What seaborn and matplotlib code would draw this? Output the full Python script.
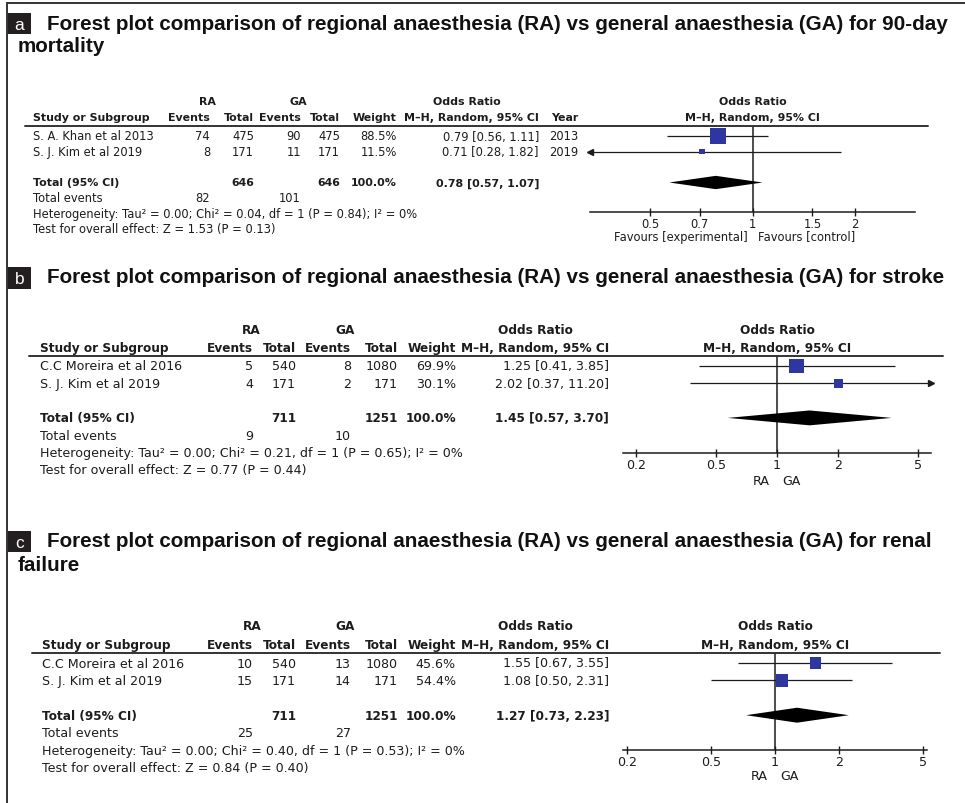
import numpy as np
import pandas as pd
import matplotlib
matplotlib.use("Agg")
import matplotlib.pyplot as plt
from matplotlib.patches import Rectangle
from matplotlib.lines import Line2D
from matplotlib.ticker import NullLocator
from matplotlib.transforms import blended_transform_factory
import seaborn as sns

# ---------------------------------------------------------------- data
# (a) 90-day mortality
a_studies = ["S. A. Khan et al 2013", "S. J. Kim et al 2019"]
a_ra_events = [74, 8]
a_ra_total = [475, 171]
a_ga_events = [90, 11]
a_ga_total = [475, 171]
a_weight = [88.5, 11.5]
a_or = [0.79, 0.71]
a_ci_low = [0.56, 0.28]
a_ci_high = [1.11, 1.82]
a_year = [2013, 2019]
a_pooled = [0.78, 0.57, 1.07]
a_group_totals = [646, 646]
a_total_events = [82, 101]
a_heterogeneity = "Heterogeneity: Tau\u00b2 = 0.00; Chi\u00b2 = 0.04, df = 1 (P = 0.84); I\u00b2 = 0%"
a_overall = "Test for overall effect: Z = 1.53 (P = 0.13)"
a_ticks = [0.5, 0.7, 1, 1.5, 2]
a_tick_labels = ["0.5", "0.7", "1", "1.5", "2"]

# (b) stroke
b_studies = ["C.C Moreira et al 2016", "S. J. Kim et al 2019"]
b_ra_events = [5, 4]
b_ra_total = [540, 171]
b_ga_events = [8, 2]
b_ga_total = [1080, 171]
b_weight = [69.9, 30.1]
b_or = [1.25, 2.02]
b_ci_low = [0.41, 0.37]
b_ci_high = [3.85, 11.20]
b_pooled = [1.45, 0.57, 3.70]
b_group_totals = [711, 1251]
b_total_events = [9, 10]
b_heterogeneity = "Heterogeneity: Tau\u00b2 = 0.00; Chi\u00b2 = 0.21, df = 1 (P = 0.65); I\u00b2 = 0%"
b_overall = "Test for overall effect: Z = 0.77 (P = 0.44)"
b_ticks = [0.2, 0.5, 1, 2, 5]
b_tick_labels = ["0.2", "0.5", "1", "2", "5"]

# (c) renal failure
c_studies = ["C.C Moreira et al 2016", "S. J. Kim et al 2019"]
c_ra_events = [10, 15]
c_ra_total = [540, 171]
c_ga_events = [13, 14]
c_ga_total = [1080, 171]
c_weight = [45.6, 54.4]
c_or = [1.55, 1.08]
c_ci_low = [0.67, 0.50]
c_ci_high = [3.55, 2.31]
c_pooled = [1.27, 0.73, 2.23]
c_group_totals = [711, 1251]
c_total_events = [25, 27]
c_heterogeneity = "Heterogeneity: Tau\u00b2 = 0.00; Chi\u00b2 = 0.40, df = 1 (P = 0.53); I\u00b2 = 0%"
c_overall = "Test for overall effect: Z = 0.84 (P = 0.40)"
c_ticks = [0.2, 0.5, 1, 2, 5]
c_tick_labels = ["0.2", "0.5", "1", "2", "5"]

titles = {
    "a": ["Forest plot comparison of regional anaesthesia (RA) vs general anaesthesia (GA) for 90-day",
          "mortality"],
    "b": ["Forest plot comparison of regional anaesthesia (RA) vs general anaesthesia (GA) for stroke"],
    "c": ["Forest plot comparison of regional anaesthesia (RA) vs general anaesthesia (GA) for renal",
          "failure"],
}

# ---------------------------------------------------------------- style
sns.set_theme(style="white")
TABLE_FONT = ["DejaVu Sans"]
TITLE_FONT = ["Liberation Sans", "DejaVu Sans"]
plt.rcParams["font.family"] = TABLE_FONT

INK = "#1c1c1c"
SQUARE_BLUE = "#2d379f"
REGULAR_SCALE = 1.05

W, H = 965, 804
fig = plt.figure(figsize=(W / 100, H / 100), dpi=100)
fig.patch.set_facecolor("white")


def fx(x):
    return x / W


def fy(y):
    return 1 - y / H


# frame along the top and left edges
fig.add_artist(Line2D([fx(7), 1], [fy(4), fy(4)], color="#333333", lw=1.4))
fig.add_artist(Line2D([fx(7), fx(7)], [fy(4), 0], color="#333333", lw=1.4))

layouts = {
    "a": dict(title_y=[24, 47], box_y=(14, 35), row0=137, drow=15.5, rule_y=127, axis_y=213,
              ax_x=(590, 915), xlim=(1 / 3, 3), rule_x=(25, 928), head_y=(102, 118), fs=7.9,
              name_x=33, cols=[210, 254, 301, 340, 397], or_right=539, or_center=467,
              ra_center=207, ga_center=298, year_right=578,
              foot=("Favours [experimental]", "Favours [control]"), foot_dy=24, foot_gap=(5, 5)),
    "b": dict(title_y=[278], box_y=(268, 290), row0=367, drow=17.3, rule_y=357, axis_y=454,
              ax_x=(623, 931), xlim=(np.exp(-1.758), np.exp(1.758)), rule_x=(29, 943),
              head_y=(331, 349), fs=8.7, name_x=40, cols=[253, 296, 351, 398, 456],
              or_right=609, or_center=535, ra_center=251, ga_center=345, year_right=None,
              foot=("RA", "GA"), foot_dy=28, foot_gap=(7, 5)),
    "c": dict(title_y=[542, 566], box_y=(532, 553), row0=664, drow=17.4, rule_y=654, axis_y=751,
              ax_x=(623, 927), xlim=(np.exp(-1.652), np.exp(1.652)), rule_x=(32, 940),
              head_y=(627, 646), fs=8.7, name_x=42, cols=[253, 296, 351, 398, 456],
              or_right=609, or_center=535, ra_center=252, ga_center=345, year_right=None,
              foot=("RA", "GA"), foot_dy=26, foot_gap=(7, 5)),
}

panels = {
    "a": dict(studies=a_studies, ra_ev=a_ra_events, ra_tot=a_ra_total, ga_ev=a_ga_events,
              ga_tot=a_ga_total, weight=a_weight, est=a_or, lo=a_ci_low, hi=a_ci_high,
              year=a_year, pooled=a_pooled, totals=a_group_totals, tot_ev=a_total_events,
              het=a_heterogeneity, overall=a_overall, ticks=a_ticks, tick_labels=a_tick_labels),
    "b": dict(studies=b_studies, ra_ev=b_ra_events, ra_tot=b_ra_total, ga_ev=b_ga_events,
              ga_tot=b_ga_total, weight=b_weight, est=b_or, lo=b_ci_low, hi=b_ci_high,
              year=None, pooled=b_pooled, totals=b_group_totals, tot_ev=b_total_events,
              het=b_heterogeneity, overall=b_overall, ticks=b_ticks, tick_labels=b_tick_labels),
    "c": dict(studies=c_studies, ra_ev=c_ra_events, ra_tot=c_ra_total, ga_ev=c_ga_events,
              ga_tot=c_ga_total, weight=c_weight, est=c_or, lo=c_ci_low, hi=c_ci_high,
              year=None, pooled=c_pooled, totals=c_group_totals, tot_ev=c_total_events,
              het=c_heterogeneity, overall=c_overall, ticks=c_ticks, tick_labels=c_tick_labels),
}


def ci_text(est, lo, hi):
    return f"{est:.2f} [{lo:.2f}, {hi:.2f}]"


def draw_panel(key):
    d = panels[key]
    L = layouts[key]
    fs = L["fs"]
    fs_reg = fs * REGULAR_SCALE

    # panel letter and title
    y0, y1 = L["box_y"]
    fig.add_artist(Rectangle((fx(8), fy(y1)), fx(31) - fx(8), (y1 - y0) / H,
                             facecolor="#231f20", edgecolor="none"))
    fig.text(fx(19.5), fy((y0 + y1) / 2 + 1), key, color="white", fontsize=12.5,
             family=TITLE_FONT, ha="center", va="center")
    for i, line in enumerate(titles[key]):
        fig.text(fx(47) if i == 0 else fx(18), fy(L["title_y"][i]), line, fontsize=14.9,
                 fontweight="bold", family=TITLE_FONT, color="#111111", va="center")

    # forest axes: log odds-ratio on x, table rows on y
    r_rule = (L["rule_y"] - L["row0"]) / L["drow"]
    r_axis = (L["axis_y"] - L["row0"]) / L["drow"]
    xa, xb = L["ax_x"]
    ax = fig.add_axes([fx(xa), fy(L["axis_y"]), (xb - xa) / W, (L["axis_y"] - L["rule_y"]) / H])
    ax.set_xscale("log")
    ax.set_xlim(*L["xlim"])
    ax.set_ylim(r_axis, r_rule)
    ax.patch.set_alpha(0)

    n = len(d["studies"])
    rows = list(range(n))
    df = pd.DataFrame({"study": d["studies"], "odds_ratio": d["est"], "row": rows,
                       "weight": d["weight"], "lo": d["lo"], "hi": d["hi"]})

    ax.axvline(1, color=INK, lw=1.1, zorder=1)

    # confidence intervals, with arrows where they run past the axis
    xmin, xmax = L["xlim"]
    for _, rw in df.iterrows():
        x0 = max(rw["lo"], xmin)
        x1 = min(rw["hi"], xmax)
        ax.plot([x0, x1], [rw["row"], rw["row"]], color=INK, lw=0.9, zorder=2,
                solid_capstyle="butt")
        if rw["lo"] < xmin:
            ax.plot([xmin], [rw["row"]], marker="<", ms=4.5, color=INK, clip_on=False, zorder=2)
        if rw["hi"] > xmax:
            ax.plot([xmax], [rw["row"]], marker=">", ms=4.5, color=INK, clip_on=False, zorder=2)

    # study squares, area proportional to weight
    sns.scatterplot(data=df, x="odds_ratio", y="row", size="weight", sizes=(0, 153),
                    size_norm=(0, 100), marker="s", color=SQUARE_BLUE, linewidth=0,
                    legend=False, ax=ax, zorder=3)

    # pooled diamond
    est, plo, phi = d["pooled"]
    r_tot = n + 1
    h = 0.43
    ax.fill([plo, est, phi, est], [r_tot, r_tot - h, r_tot, r_tot + h], color="black",
            lw=0, zorder=3)

    ax.set_xlabel("")
    ax.set_ylabel("")
    ax.set_yticks([])
    ax.set_xticks(d["ticks"], d["tick_labels"])
    ax.xaxis.set_minor_locator(NullLocator())
    ax.tick_params(axis="x", bottom=True, direction="inout", length=5.8, width=1.0,
                   pad=0.5, labelsize=fs_reg, colors=INK)
    for s in ("top", "left", "right"):
        ax.spines[s].set_visible(False)
    ax.spines["bottom"].set_color(INK)
    ax.spines["bottom"].set_linewidth(1.1)

    # header rule across table and plot
    tr = blended_transform_factory(fig.transFigure, ax.transData)
    fig.add_artist(Line2D([fx(L["rule_x"][0]), fx(L["rule_x"][1])], [r_rule, r_rule],
                          transform=tr, color="#333333", lw=1.4))

    # table text
    def put(x_px, row, s, ha="right", bold=False):
        fig.text(fx(x_px), row, s, transform=tr, ha=ha, va="center",
                 fontsize=fs if bold else fs_reg,
                 fontweight="bold" if bold else "normal", color=INK)

    def put_px(x_px, y_px, s, ha="right", bold=False):
        fig.text(fx(x_px), fy(y_px), s, ha=ha, va="center",
                 fontsize=fs if bold else fs_reg,
                 fontweight="bold" if bold else "normal", color=INK)

    hy1, hy2 = L["head_y"]
    cols = L["cols"]
    put_px(L["ra_center"], hy1, "RA", ha="center", bold=True)
    put_px(L["ga_center"], hy1, "GA", ha="center", bold=True)
    put_px(L["or_center"], hy1, "Odds Ratio", ha="center", bold=True)
    put_px(L["name_x"], hy2, "Study or Subgroup", ha="left", bold=True)
    for x, s in zip(cols, ["Events", "Total", "Events", "Total", "Weight"]):
        put_px(x, hy2, s, bold=True)
    put_px(L["or_right"], hy2, "M\u2013H, Random, 95% CI", bold=True)
    if L["year_right"] is not None:
        put_px(L["year_right"], hy2, "Year", bold=True)

    # forest header, centred on the line of no effect
    ftr = blended_transform_factory(ax.transData, fig.transFigure)
    for y, s in ((hy1, "Odds Ratio"), (hy2, "M\u2013H, Random, 95% CI")):
        fig.text(1, fy(y), s, transform=ftr, ha="center", va="center", fontsize=fs,
                 fontweight="bold", color=INK)

    for i in rows:
        put(L["name_x"], i, d["studies"][i], ha="left")
        vals = [d["ra_ev"][i], d["ra_tot"][i], d["ga_ev"][i], d["ga_tot"][i]]
        for x, v in zip(cols[:4], vals):
            put(x, i, str(v))
        put(cols[4], i, f"{d['weight'][i]:.1f}%")
        put(L["or_right"], i, ci_text(d["est"][i], d["lo"][i], d["hi"][i]))
        if d["year"] is not None:
            put(L["year_right"], i, str(d["year"][i]))

    put(L["name_x"], r_tot, "Total (95% CI)", ha="left", bold=True)
    put(cols[1], r_tot, str(d["totals"][0]), bold=True)
    put(cols[3], r_tot, str(d["totals"][1]), bold=True)
    put(cols[4], r_tot, f"{sum(d['weight']):.1f}%", bold=True)
    put(L["or_right"], r_tot, ci_text(est, plo, phi), bold=True)

    put(L["name_x"], r_tot + 1, "Total events", ha="left")
    put(cols[0], r_tot + 1, str(d["tot_ev"][0]))
    put(cols[2], r_tot + 1, str(d["tot_ev"][1]))
    put(L["name_x"], r_tot + 2, d["het"], ha="left")
    put(L["name_x"], r_tot + 3, d["overall"], ha="left")

    # favours labels under the axis
    left_lab, right_lab = L["foot"]
    g0, g1 = L["foot_gap"]
    dy = -L["foot_dy"] * 0.72
    ax.annotate(left_lab, xy=(1, 0), xycoords=("data", "axes fraction"),
                xytext=(-g0 * 0.72, dy), textcoords="offset points", ha="right", va="center",
                fontsize=fs_reg, color=INK)
    ax.annotate(right_lab, xy=(1, 0), xycoords=("data", "axes fraction"),
                xytext=(g1 * 0.72, dy), textcoords="offset points", ha="left", va="center",
                fontsize=fs_reg, color=INK)


for k in ("a", "b", "c"):
    draw_panel(k)

fig.savefig("out.png", dpi=100, facecolor="white")
